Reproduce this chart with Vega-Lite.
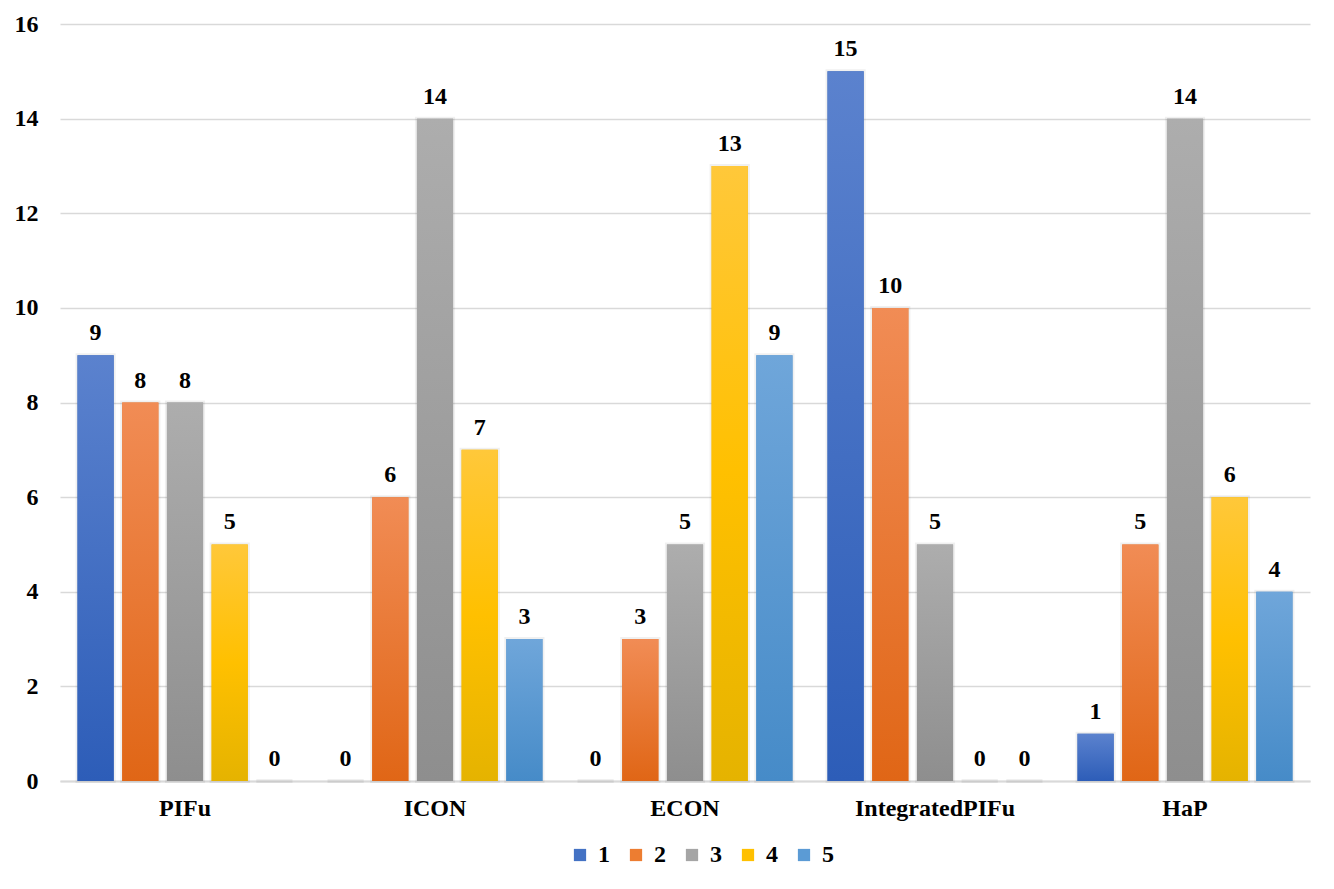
{
  "$schema": "https://vega.github.io/schema/vega-lite/v6.json",
  "autosize": {"type": "none"},
  "width": 1250,
  "height": 757,
  "padding": {"left": 60, "top": 24, "right": 24, "bottom": 108},
  "background": "white",
  "view": {"stroke": null},
  "data": {"values": [
    {"model": "PIFu", "series": "1", "value": 9},
    {"model": "PIFu", "series": "2", "value": 8},
    {"model": "PIFu", "series": "3", "value": 8},
    {"model": "PIFu", "series": "4", "value": 5},
    {"model": "PIFu", "series": "5", "value": 0},
    {"model": "ICON", "series": "1", "value": 0},
    {"model": "ICON", "series": "2", "value": 6},
    {"model": "ICON", "series": "3", "value": 14},
    {"model": "ICON", "series": "4", "value": 7},
    {"model": "ICON", "series": "5", "value": 3},
    {"model": "ECON", "series": "1", "value": 0},
    {"model": "ECON", "series": "2", "value": 3},
    {"model": "ECON", "series": "3", "value": 5},
    {"model": "ECON", "series": "4", "value": 13},
    {"model": "ECON", "series": "5", "value": 9},
    {"model": "IntegratedPIFu", "series": "1", "value": 15},
    {"model": "IntegratedPIFu", "series": "2", "value": 10},
    {"model": "IntegratedPIFu", "series": "3", "value": 5},
    {"model": "IntegratedPIFu", "series": "4", "value": 0},
    {"model": "IntegratedPIFu", "series": "5", "value": 0},
    {"model": "HaP", "series": "1", "value": 1},
    {"model": "HaP", "series": "2", "value": 5},
    {"model": "HaP", "series": "3", "value": 14},
    {"model": "HaP", "series": "4", "value": 6},
    {"model": "HaP", "series": "5", "value": 4}
  ]},
  "encoding": {
    "x": {
      "field": "model", "type": "nominal",
      "sort": ["PIFu", "ICON", "ECON", "IntegratedPIFu", "HaP"],
      "scale": {"paddingInner": 0.14, "paddingOuter": 0.07},
      "axis": {
        "title": null, "labelAngle": 0, "ticks": false,
        "domain": true, "domainColor": "#d9d9d9", "domainWidth": 2,
        "labelFont": "Liberation Serif", "labelFontWeight": "bold", "labelFontSize": 24,
        "labelColor": "#000000", "labelPadding": 15
      }
    },
    "xOffset": {
      "field": "series", "type": "nominal",
      "scale": {"domain": ["1", "2", "3", "4", "5"], "paddingInner": 0.19, "paddingOuter": 0}
    },
    "y": {
      "field": "value", "type": "quantitative",
      "scale": {"domain": [0, 16], "nice": false},
      "axis": {
        "title": null, "values": [0, 2, 4, 6, 8, 10, 12, 14, 16],
        "domain": false, "ticks": false,
        "grid": true, "gridColor": "#d9d9d9", "gridWidth": 1.5,
        "labelFont": "Liberation Serif", "labelFontWeight": "bold", "labelFontSize": 24,
        "labelColor": "#000000", "labelPadding": 22
      }
    }
  },
  "layer": [
    {
      "mark": {"type": "bar", "stroke": "#000000", "strokeOpacity": 0.06, "strokeWidth": 4},
      "encoding": {
        "color": {
          "field": "series", "type": "nominal",
          "scale": {
            "domain": ["1", "2", "3", "4", "5"],
            "range": ["#4472c4", "#ed7d31", "#a5a5a5", "#ffc000", "#5b9bd5"]
          },
          "legend": {
            "title": null, "orient": "none", "direction": "horizontal",
            "legendX": 508, "legendY": 819,
            "symbolType": "square", "symbolSize": 150, "symbolStrokeWidth": 0,
            "symbolOpacity": 1,
            "labelFont": "Liberation Serif", "labelFontWeight": "bold", "labelFontSize": 24,
            "labelColor": "#000000", "labelOffset": 6, "columnPadding": 14
          }
        }
      }
    },
    {
      "transform": [{"filter": "datum.series == '1'"}],
      "mark": {"type": "bar", "color": {"gradient": "linear", "x1": 0, "y1": 0, "x2": 0, "y2": 1, "stops": [{"offset": 0, "color": "#5b82ce"}, {"offset": 1, "color": "#2d5db8"}]}}
    },
    {
      "transform": [{"filter": "datum.series == '2'"}],
      "mark": {"type": "bar", "color": {"gradient": "linear", "x1": 0, "y1": 0, "x2": 0, "y2": 1, "stops": [{"offset": 0, "color": "#f18c55"}, {"offset": 1, "color": "#e06616"}]}}
    },
    {
      "transform": [{"filter": "datum.series == '3'"}],
      "mark": {"type": "bar", "color": {"gradient": "linear", "x1": 0, "y1": 0, "x2": 0, "y2": 1, "stops": [{"offset": 0, "color": "#adadad"}, {"offset": 1, "color": "#8e8e8e"}]}}
    },
    {
      "transform": [{"filter": "datum.series == '4'"}],
      "mark": {"type": "bar", "color": {"gradient": "linear", "x1": 0, "y1": 0, "x2": 0, "y2": 1, "stops": [{"offset": 0, "color": "#ffc83a"}, {"offset": 0.5, "color": "#ffc000"}, {"offset": 1, "color": "#e5b300"}]}}
    },
    {
      "transform": [{"filter": "datum.series == '5'"}],
      "mark": {"type": "bar", "color": {"gradient": "linear", "x1": 0, "y1": 0, "x2": 0, "y2": 1, "stops": [{"offset": 0, "color": "#6fa6da"}, {"offset": 1, "color": "#468bc8"}]}}
    },
    {
      "mark": {"type": "text", "baseline": "alphabetic", "dy": -15, "font": "Liberation Serif", "fontWeight": "bold", "fontSize": 24, "color": "#000000"},
      "encoding": {
        "text": {"field": "value", "type": "quantitative"}
      }
    }
  ]
}
